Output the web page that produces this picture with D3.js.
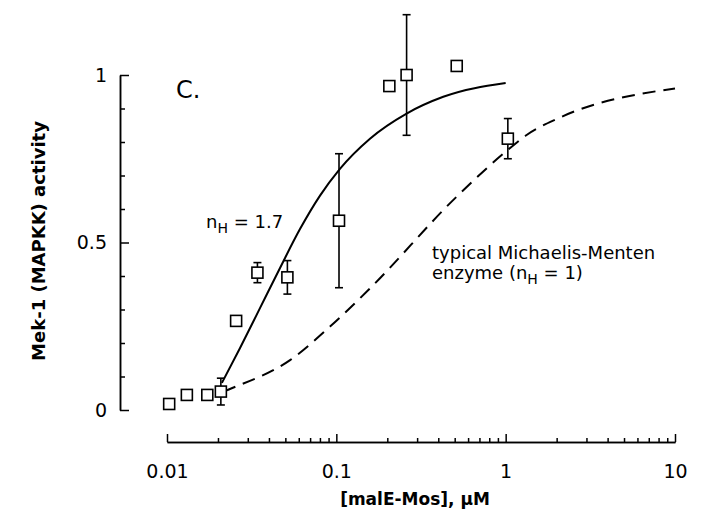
<!DOCTYPE html>
<html>
<head>
<meta charset="utf-8">
<script src="https://cdn.jsdelivr.net/npm/d3@7"></script>
<style>
  html, body { margin: 0; padding: 0; background: #fff; }
  svg { display: block; }
  text { font-family: "DejaVu Sans", "Liberation Sans", Arial, sans-serif; fill: #000; }
</style>
</head>
<body>
<svg id="chart" width="702" height="532"></svg>
<script>
// ---- data ----
const concentrations = [0.0103, 0.0131, 0.0173, 0.0208, 0.0256, 0.0342, 0.0514, 0.1037, 0.2056, 0.26, 0.514, 1.03];
const activity       = [0.018, 0.045, 0.045, 0.055, 0.266, 0.41, 0.396, 0.565, 0.967, 1.0, 1.027, 0.81];
const errors         = [0, 0, 0, 0.04, 0, 0.03, 0.05, 0.2, 0, 0.18, 0, 0.06];

// fitted Hill curve (n_H = 1.7)
const hillX = [0.0211, 0.027, 0.0354, 0.0465, 0.061, 0.0801, 0.105, 0.158, 0.26, 0.428, 1.0];
const hillY = [0.081, 0.185, 0.304, 0.424, 0.54, 0.64, 0.72, 0.81, 0.885, 0.935, 0.976];

// Michaelis-Menten curve (n_H = 1)
const mmX = [0.0215, 0.0241, 0.0533, 0.0918, 0.1545, 0.514, 1.0, 1.33, 2.05, 10];
const mmY = [0.055, 0.065, 0.149, 0.249, 0.358, 0.637, 0.771, 0.821, 0.871, 0.96];

const xTickValues = [0.01, 0.1, 1, 10];
const xTickLabels = ["0.01", "0.1", "1", "10"];
const yTickValues = [0, 0.5, 1];
const yTickLabels = ["0", "0.5", "1"];

// ---- drawing ----
const svg = d3.select("#chart");
const x = d3.scaleLog().domain([0.01, 10]).range([167, 675]);
const y = d3.scaleLinear().domain([0, 1]).range([410, 75]);
const yAxisX = 120;
const xAxisY = 442;

// x minor ticks
const xMinor = [];
for (let d = 0.01; d < 10; d *= 10) for (let k = 2; k <= 9; k++) xMinor.push(+(d * k).toPrecision(3));

svg.append("g").attr("transform", `translate(0,${xAxisY})`)
  .call(d3.axisBottom(x).tickValues(xMinor).tickSize(-4).tickSizeOuter(0).tickFormat(""));
svg.append("g").attr("transform", `translate(0,${xAxisY})`)
  .call(d3.axisBottom(x).tickValues(xTickValues).tickSize(-8).tickSizeOuter(0).tickPadding(23)
    .tickFormat((d, i) => xTickLabels[i]));

// y axis
const yMinor = d3.range(1, 10).map(i => i / 10).filter(v => v !== 0.5);
svg.append("g").attr("transform", `translate(${yAxisX},0)`)
  .call(d3.axisLeft(y).tickValues(yMinor).tickSize(-5).tickSizeOuter(0).tickFormat(""));
svg.append("g").attr("transform", `translate(${yAxisX},0)`)
  .call(d3.axisLeft(y).tickValues(yTickValues).tickSize(-9).tickSizeOuter(0).tickPadding(13)
    .tickFormat((d, i) => yTickLabels[i]));

svg.selectAll(".domain, .tick line").attr("stroke", "#000").attr("stroke-width", 1.5);
svg.selectAll(".tick text").style("font-size", "19px").attr("fill", "#000")
  .style("font-family", "'DejaVu Sans', Arial, sans-serif");

// curves
const lineGen = d3.line().x(d => x(d[0])).y(d => y(d[1])).curve(d3.curveMonotoneX);
svg.append("path").datum(hillX.map((v, i) => [v, hillY[i]]))
  .attr("d", lineGen).attr("fill", "none").attr("stroke", "#000").attr("stroke-width", 2);
svg.append("path").datum(mmX.map((v, i) => [v, mmY[i]]))
  .attr("d", lineGen).attr("fill", "none").attr("stroke", "#000").attr("stroke-width", 2)
  .attr("stroke-dasharray", "13,8");

// error bars
const pts = concentrations.map((c, i) => ({ c, a: activity[i], e: errors[i] }));
const eb = svg.append("g").selectAll("g").data(pts.filter(p => p.e > 0)).join("g");
eb.append("line").attr("x1", d => x(d.c)).attr("x2", d => x(d.c))
  .attr("y1", d => y(d.a - d.e)).attr("y2", d => y(d.a + d.e))
  .attr("stroke", "#000").attr("stroke-width", 1.6);
eb.append("line").attr("x1", d => x(d.c) - 4).attr("x2", d => x(d.c) + 4)
  .attr("y1", d => y(d.a + d.e)).attr("y2", d => y(d.a + d.e))
  .attr("stroke", "#000").attr("stroke-width", 1.6);
eb.append("line").attr("x1", d => x(d.c) - 4).attr("x2", d => x(d.c) + 4)
  .attr("y1", d => y(d.a - d.e)).attr("y2", d => y(d.a - d.e))
  .attr("stroke", "#000").attr("stroke-width", 1.6);

// squares
const s = 11;
svg.append("g").selectAll("rect").data(pts).join("rect")
  .attr("x", d => x(d.c) - s / 2).attr("y", d => y(d.a) - s / 2)
  .attr("width", s).attr("height", s)
  .attr("fill", "#fff").attr("stroke", "#000").attr("stroke-width", 1.6);

// labels
svg.append("text").attr("x", 176).attr("y", 98).style("font-size", "24px").text("C.");

const nh = svg.append("text").attr("x", 206).attr("y", 228).style("font-size", "18px");
nh.append("tspan").text("n");
nh.append("tspan").attr("dy", 5).style("font-size", "14px").text("H");
nh.append("tspan").attr("dy", -5).text(" = 1.7");

svg.append("text").attr("x", 432).attr("y", 259).style("font-size", "18px").text("typical Michaelis-Menten");
const mm = svg.append("text").attr("x", 432).attr("y", 279).style("font-size", "18px");
mm.append("tspan").text("enzyme (n");
mm.append("tspan").attr("dy", 5).style("font-size", "14px").text("H");
mm.append("tspan").attr("dy", -5).text(" = 1)");

svg.append("text").attr("x", 415).attr("y", 505).attr("text-anchor", "middle")
  .style("font-size", "17px").style("font-weight", "bold").text("[malE-Mos], μM");

svg.append("text").attr("transform", "translate(45,241) rotate(-90)").attr("text-anchor", "middle")
  .style("font-size", "18px").style("font-weight", "bold").text("Mek-1 (MAPKK) activity");
</script>
</body>
</html>
